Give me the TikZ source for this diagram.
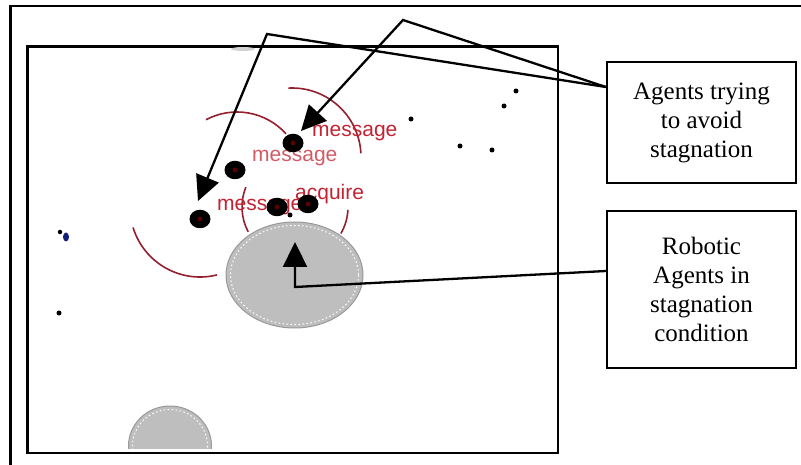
\documentclass[tikz,border=0pt]{standalone}
\usepackage{fontspec}
\setmainfont{Liberation Serif}
\newfontfamily\boxserif{Liberation Serif}
\newfontfamily\labelsans{Liberation Sans}
\usetikzlibrary{arrows.meta,shapes.geometric}
\definecolor{msgred}{RGB}{196,34,50}
\definecolor{arcred}{RGB}{150,30,45}
\definecolor{obstgray}{RGB}{190,190,190}
\definecolor{dotblue}{RGB}{20,30,120}

\begin{document}
\begin{tikzpicture}[x=1pt,y=-1pt,
  winframe/.style={line width=2.3pt},
  notebox/.style={draw,line width=2.2pt,minimum width=189pt,align=center,
    font=\boxserif\fontsize{25}{29}\selectfont,inner sep=0pt},
  pointer/.style={line width=2.3pt,-{Triangle[length=25pt,width=24pt]}},
  agent/.style={ellipse,fill=black,minimum width=21pt,minimum height=18.5pt,inner sep=0pt,
    path picture={\fill[red!35!black] (path picture bounding box.center) circle (2.5pt);}},
  speck/.style={circle,fill=black,minimum size=5pt,inner sep=0pt},
  msg/.style={text=msgred,font=\labelsans\fontsize{21}{21}\selectfont,inner sep=0pt,anchor=base west},
  commrange/.style={draw=arcred,line width=1.6pt},
  obstacle/.style={ellipse,fill=obstgray,draw=gray!80,line width=1pt,inner sep=0pt}
]
\useasboundingbox (0,0) rectangle (801,465);

% outer page frame (runs off the right and bottom edges)
\draw[winframe] (10.5,465) -- (10.5,6) -- (801,6);

% simulation window
\draw[winframe] (27.5,46.5) rectangle (558,453);

% faint trace at the top of the window
\fill[gray!35] (243,49) ellipse [x radius=12, y radius=2];

% communication ranges
\draw[commrange] ([shift={(-93:69)}]292,157) arc[start angle=-93,end angle=-3,radius=69];
\draw[commrange] ([shift={(-118:66)}]237,178) arc[start angle=-118,end angle=-42,radius=66];
\draw[commrange] ([shift={(163:70)}]200,207) arc[start angle=163,end angle=76,radius=70];
\draw[commrange] ([shift={(-158:53)}]295,207) arc[start angle=-158,end angle=-208,radius=53];
\draw[commrange] ([shift={(3:53)}]295,207) arc[start angle=3,end angle=30,radius=53];

% messages exchanged between agents
\node[msg] (m1) at (312,137) {message};
\node[msg,text=msgred!75] (m2) at (252,162) {message};
\node[msg] (m3) at (295,200) {acquire};
\node[msg] (m4) at (217,211) {message};

% obstacles
\node[obstacle,minimum width=137pt,minimum height=106pt] (pit) at (294.5,275) {};
\draw[white,line width=1pt,dash pattern=on 1.5pt off 2.5pt]
  (294.5,275) ellipse [x radius=64, y radius=49.5];
\begin{scope}
  \clip (27.5,46.5) rectangle (558,448);
  \node[obstacle,minimum width=83pt,minimum height=80pt] (pit2) at (170,446) {};
  \draw[white,line width=1pt,dash pattern=on 1.5pt off 2.5pt]
    (170,446) ellipse [x radius=37.5, y radius=36.5];
\end{scope}

% robotic agents
\node[agent] (a1) at (293,143) {};
\node[agent] (a2) at (235,170) {};
\node[agent] (a3) at (200,219) {};
\node[agent] (a4) at (277,207) {};
\node[agent] (a5) at (308,204) {};
\node[speck] (a6) at (290,215) {};

% scattered small agents
\node[speck] (s1) at (411,119) {};
\node[speck] (s2) at (516,91) {};
\node[speck] (s3) at (504,106) {};
\node[speck] (s4) at (460,146) {};
\node[speck] (s5) at (492,150) {};
\node[speck] (s6) at (59,313) {};
\node[speck,minimum size=4.5pt] (s7) at (60,232) {};
\fill[dotblue] (66,237) ellipse [x radius=3, y radius=4.5];

% labelled boxes
\node[notebox,minimum height=121pt] (avoid) at (701.5,122.5)
  {Agents trying\\to avoid\\stagnation};
\node[notebox,minimum height=157pt] (stag) at (701.5,289.5)
  {Robotic\\Agents in\\stagnation\\condition};

% pointer geometry
\coordinate (apexA) at (267,34);
\coordinate (tipA) at (198,201);
\coordinate (apexB) at (403,20);
\coordinate (tipB) at (301,131);
\coordinate (bendC) at (295,287);
\coordinate (tipC) at (295,242);

\draw[pointer] ([yshift=35.5pt]avoid.west) -- (apexA) -- (tipA);
\draw[pointer] ([yshift=35.5pt]avoid.west) -- (apexB) -- (tipB);
\draw[pointer] ([yshift=18.5pt]stag.west) -- (bendC) -- (tipC);
\end{tikzpicture}
\end{document}
